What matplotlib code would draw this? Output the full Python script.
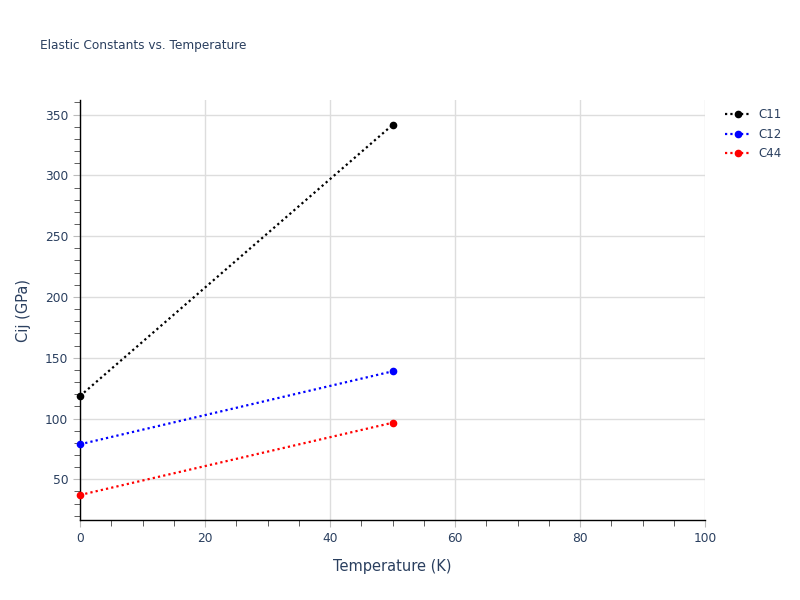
import matplotlib
matplotlib.use("Agg")
import matplotlib.pyplot as plt
from matplotlib.ticker import MultipleLocator

# data
temps = [0, 50]
c11 = [118.5, 341.5]
c12 = [78.8, 138.8]
c44 = [37.1, 96.5]
series = [("C11", c11, "black"), ("C12", c12, "blue"), ("C44", c44, "red")]

text_col = "#2a3f5f"
grid_col = "#dddddd"

fig = plt.figure(figsize=(8, 6), dpi=100)
ax = fig.add_axes([0.1, 0.1333, 0.78125, 0.7])

for name, vals, col in series:
    ax.plot(temps, vals, linestyle=(0, (1, 1.4)), linewidth=1.6, color=col,
            marker="o", markersize=4.5, label=name, clip_on=False, zorder=3)

ax.set_xlim(0, 100)
ax.set_ylim(16.5, 362)
ax.xaxis.set_major_locator(MultipleLocator(20))
ax.xaxis.set_minor_locator(MultipleLocator(5))
ax.yaxis.set_minor_locator(MultipleLocator(10))
ax.set_yticks([50, 100, 150, 200, 250, 300, 350])

ax.grid(True, which="major", color=grid_col, linewidth=1)
ax.set_axisbelow(True)
for s in ["top", "right"]:
    ax.spines[s].set_visible(False)
for s in ["left", "bottom"]:
    ax.spines[s].set_color("black")
    ax.spines[s].set_linewidth(1)

ax.tick_params(which="major", length=5, color="#bbbbbb", labelsize=8.8, labelcolor=text_col, direction="out")
ax.tick_params(which="minor", length=4, color="#444444", direction="out")

ax.set_xlabel("Temperature (K)", fontsize=10.5, color=text_col, labelpad=10)
ax.set_ylabel("Cij (GPa)", fontsize=10.5, color=text_col, labelpad=10)

fig.text(0.05, 0.925, "Elastic Constants vs. Temperature", fontsize=8.7, color=text_col, va="center")

fig.legend(loc="upper left", bbox_to_anchor=(0.893, 0.837), frameon=False, fontsize=8.5,
           labelcolor=text_col, handlelength=2.2, handletextpad=0.6, labelspacing=0.55)

fig.savefig("out.png", dpi=100)
